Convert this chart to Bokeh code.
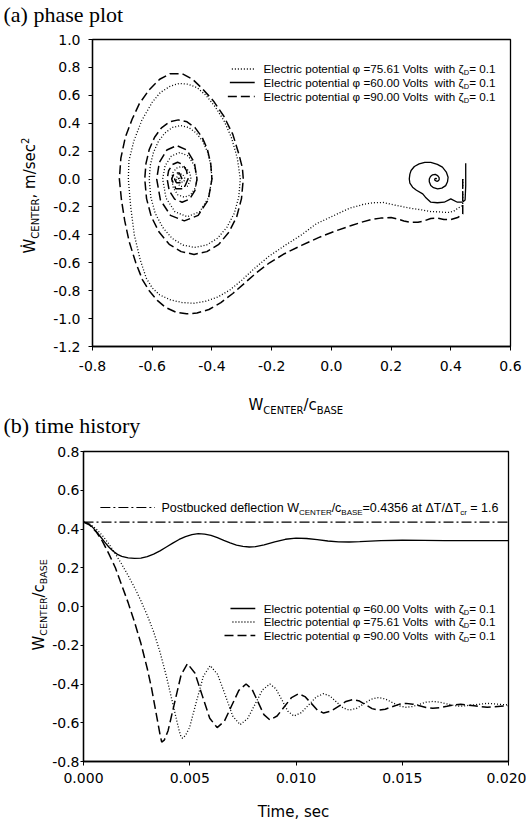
import math
from bokeh.plotting import figure
from bokeh.layouts import column, row
from bokeh.models import Label, FixedTicker, NumeralTickFormatter, Range1d
from bokeh.embed import file_html
from bokeh.resources import INLINE

# ---------------- data ----------------
phase_x_ticks = [-0.8, -0.6, -0.4, -0.2, 0.0, 0.2, 0.4, 0.6]
phase_y_ticks = [-1.2, -1.0, -0.8, -0.6, -0.4, -0.2, 0.0, 0.2, 0.4, 0.6, 0.8, 1.0]
time_x_ticks = [0.0, 0.005, 0.010, 0.015, 0.020]
time_y_ticks = [-0.8, -0.6, -0.4, -0.2, 0.0, 0.2, 0.4, 0.6, 0.8]

postbuckled_value = 0.4356

# phase plot, phi = 75.61 V (dotted)
phase_75 = [(0.44, 0.0), (0.44, -0.19), (0.427, -0.205), (0.41, -0.23), (0.39, -0.24), (0.36, -0.235),
            (0.333, -0.233), (0.30, -0.22), (0.267, -0.21), (0.22, -0.19), (0.173, -0.168), (0.14, -0.17),
            (0.11, -0.18), (0.06, -0.21), (0.01, -0.26), (-0.05, -0.32), (-0.10, -0.40), (-0.155, -0.475),
            (-0.21, -0.555), (-0.26, -0.645), (-0.30, -0.725), (-0.34, -0.795), (-0.38, -0.845),
            (-0.42, -0.875), (-0.46, -0.89), (-0.50, -0.885), (-0.54, -0.865), (-0.575, -0.83),
            (-0.60, -0.78), (-0.62, -0.71), (-0.64, -0.58), (-0.66, -0.40), (-0.672, -0.20), (-0.68, 0.0),
            (-0.678, 0.13), (-0.662, 0.27), (-0.635, 0.42), (-0.60, 0.55), (-0.573, 0.62), (-0.54, 0.665),
            (-0.51, 0.685), (-0.48, 0.68), (-0.45, 0.655), (-0.42, 0.60), (-0.39, 0.52), (-0.36, 0.42),
            (-0.335, 0.30), (-0.315, 0.15), (-0.305, 0.0),
            (-0.31, -0.127), (-0.325, -0.245), (-0.35, -0.346), (-0.381, -0.424), (-0.418, -0.473),
            (-0.4575, -0.49), (-0.497, -0.473), (-0.534, -0.424), (-0.565, -0.346), (-0.59, -0.245),
            (-0.605, -0.127), (-0.61, 0.0),
            (-0.6064, 0.099), (-0.596, 0.19), (-0.579, 0.271), (-0.5575, 0.33), (-0.532, 0.37),
            (-0.505, 0.383), (-0.478, 0.37), (-0.4525, 0.33), (-0.431, 0.271), (-0.414, 0.19),
            (-0.4036, 0.099), (-0.40, 0.0),
            (-0.4115, -0.135), (-0.441, -0.234), (-0.4825, -0.27), (-0.524, -0.234), (-0.554, -0.135),
            (-0.565, 0.0),
            (-0.557, 0.095), (-0.536, 0.165), (-0.5075, 0.19), (-0.479, 0.165), (-0.458, 0.095), (-0.45, 0.0),
            (-0.456, -0.065), (-0.471, -0.113), (-0.4925, -0.13), (-0.514, -0.113), (-0.529, -0.065),
            (-0.535, 0.0),
            (-0.531, 0.045), (-0.519, 0.078), (-0.5025, 0.09), (-0.486, 0.078), (-0.474, 0.045), (-0.47, 0.0),
            (-0.4825, -0.052), (-0.5075, -0.052), (-0.52, 0.0), (-0.5125, 0.035), (-0.4975, 0.035),
            (-0.49, 0.0), (-0.495, -0.022), (-0.505, -0.022), (-0.51, 0.0), (-0.505, 0.012), (-0.50, 0.0)]

# phase plot, phi = 60.00 V (solid)
phase_60 = [(0.45, 0.113), (0.45, -0.05), (0.448, -0.15), (0.439, -0.166), (0.422, -0.166), (0.40, -0.142),
            (0.378, -0.166), (0.355, -0.17), (0.333, -0.166), (0.315, -0.13), (0.306, -0.106),
            (0.285, -0.08), (0.272, -0.058), (0.263, -0.03), (0.261, 0.001), (0.263, 0.035), (0.267, 0.061),
            (0.278, 0.09), (0.294, 0.109), (0.313, 0.12), (0.333, 0.12), (0.355, 0.105), (0.372, 0.085),
            (0.385, 0.05), (0.391, 0.013), (0.389, -0.02), (0.383, -0.047), (0.37, -0.065), (0.356, -0.07),
            (0.342, -0.062), (0.333, -0.047), (0.328, -0.02), (0.328, 0.0), (0.332, 0.018), (0.339, 0.03),
            (0.348, 0.033), (0.356, 0.025), (0.361, 0.01), (0.361, -0.006), (0.357, -0.014), (0.353, -0.016),
            (0.347, -0.01), (0.346, 0.0), (0.35, 0.006), (0.353, 0.0)]

# phase plot, phi = 90.00 V (dashed)
phase_90 = [(0.44, 0.0), (0.44, -0.25), (0.423, -0.276), (0.40, -0.29), (0.377, -0.29), (0.355, -0.28),
            (0.333, -0.283), (0.31, -0.30), (0.29, -0.31), (0.265, -0.31), (0.243, -0.30), (0.22, -0.285),
            (0.20, -0.276), (0.165, -0.28), (0.133, -0.29), (0.10, -0.31), (0.067, -0.333), (0.01, -0.375),
            (-0.043, -0.42), (-0.10, -0.475), (-0.157, -0.535), (-0.207, -0.60), (-0.25, -0.67),
            (-0.29, -0.745), (-0.33, -0.82), (-0.37, -0.885), (-0.41, -0.935), (-0.45, -0.96),
            (-0.485, -0.966), (-0.52, -0.955), (-0.555, -0.92), (-0.583, -0.87), (-0.61, -0.80),
            (-0.633, -0.72), (-0.655, -0.60), (-0.677, -0.45), (-0.692, -0.30), (-0.703, -0.15), (-0.71, 0.0),
            (-0.705, 0.15), (-0.69, 0.30), (-0.667, 0.43), (-0.643, 0.54), (-0.61, 0.64), (-0.575, 0.715),
            (-0.54, 0.755), (-0.50, 0.755), (-0.465, 0.715), (-0.433, 0.65), (-0.395, 0.56), (-0.36, 0.45),
            (-0.33, 0.32), (-0.31, 0.18), (-0.298, 0.08), (-0.295, 0.0),
            (-0.301, -0.14), (-0.317, -0.27), (-0.343, -0.38), (-0.377, -0.468), (-0.417, -0.52),
            (-0.46, -0.54), (-0.503, -0.52), (-0.543, -0.468), (-0.577, -0.38), (-0.603, -0.27),
            (-0.619, -0.14), (-0.625, 0.0),
            (-0.621, 0.11), (-0.61, 0.212), (-0.592, 0.30), (-0.569, 0.367), (-0.5416, 0.41),
            (-0.5125, 0.424), (-0.4834, 0.41), (-0.456, 0.367), (-0.433, 0.30), (-0.415, 0.212),
            (-0.404, 0.11), (-0.40, 0.0),
            (-0.4124, -0.15), (-0.446, -0.26), (-0.4925, -0.30), (-0.539, -0.26), (-0.5726, -0.15),
            (-0.585, 0.0),
            (-0.576, 0.12), (-0.551, 0.208), (-0.5175, 0.24), (-0.484, 0.208), (-0.459, 0.12), (-0.45, 0.0),
            (-0.457, -0.083), (-0.475, -0.144), (-0.50, -0.166), (-0.525, -0.144), (-0.543, -0.083),
            (-0.55, 0.0),
            (-0.545, 0.06), (-0.5325, 0.104), (-0.515, 0.12), (-0.4975, 0.104), (-0.485, 0.06), (-0.48, 0.0),
            (-0.494, -0.069), (-0.521, -0.069), (-0.535, 0.0), (-0.526, 0.043), (-0.509, 0.043), (-0.50, 0.0),
            (-0.506, -0.026), (-0.519, -0.026), (-0.525, 0.0), (-0.515, 0.015), (-0.51, 0.0)]

# time history (time s, W_center/c_base)
time_60 = [(0.0, 0.4356), (0.0002, 0.43), (0.0004, 0.412), (0.0006, 0.388), (0.0008, 0.36), (0.001, 0.332),
           (0.0012, 0.306), (0.0014, 0.285), (0.0016, 0.269), (0.0018, 0.259), (0.0021, 0.251),
           (0.0024, 0.248), (0.0027, 0.25), (0.003, 0.257), (0.0033, 0.27), (0.0036, 0.287), (0.0039, 0.307),
           (0.0042, 0.327), (0.0045, 0.346), (0.0048, 0.361), (0.0051, 0.371), (0.0054, 0.376),
           (0.0057, 0.374), (0.006, 0.367), (0.0063, 0.355), (0.0066, 0.341), (0.0069, 0.328),
           (0.0072, 0.317), (0.0075, 0.31), (0.0078, 0.307), (0.0081, 0.309), (0.0085, 0.318),
           (0.009, 0.334), (0.0095, 0.347), (0.01, 0.353), (0.0105, 0.351), (0.011, 0.345), (0.0115, 0.338),
           (0.012, 0.334), (0.0125, 0.333), (0.013, 0.335), (0.014, 0.34), (0.015, 0.342), (0.016, 0.341),
           (0.017, 0.34), (0.018, 0.34), (0.019, 0.34), (0.02, 0.34)]

time_75 = [(0.0, 0.4356), (0.0003, 0.425), (0.0006, 0.40), (0.0009, 0.365), (0.0012, 0.322), (0.0015, 0.272),
           (0.0018, 0.218), (0.0021, 0.16), (0.0024, 0.098), (0.0027, 0.03), (0.003, -0.045), (0.0033, -0.13),
           (0.0036, -0.235), (0.0039, -0.36), (0.0042, -0.50), (0.0044, -0.595), (0.0045, -0.64),
           (0.00458, -0.67), (0.00466, -0.68), (0.0048, -0.665), (0.00499, -0.625), (0.00531, -0.4925),
           (0.00564, -0.36), (0.00596, -0.305), (0.00631, -0.35), (0.00667, -0.4575), (0.00702, -0.565),
           (0.00737, -0.61), (0.00772, -0.579), (0.00807, -0.505), (0.00842, -0.431), (0.00877, -0.40),
           (0.00905, -0.424), (0.00934, -0.4825), (0.00962, -0.541), (0.0099, -0.565), (0.01025, -0.548),
           (0.0106, -0.5075), (0.01095, -0.467), (0.0113, -0.45), (0.0116, -0.462), (0.0119, -0.4925),
           (0.01221, -0.523), (0.01251, -0.535), (0.01285, -0.526), (0.01319, -0.5025), (0.01353, -0.479),
           (0.01387, -0.47), (0.0142, -0.477), (0.01452, -0.495), (0.01485, -0.513), (0.01518, -0.52),
           (0.0155, -0.516), (0.01581, -0.505), (0.01612, -0.494), (0.01644, -0.49), (0.01677, -0.494),
           (0.0171, -0.5025), (0.01742, -0.511), (0.01775, -0.515), (0.01838, -0.5075), (0.019, -0.50),
           (0.0195, -0.504), (0.02, -0.508)]

time_90 = [(0.0, 0.4356), (0.0003, 0.42), (0.0006, 0.385), (0.0009, 0.335), (0.0012, 0.27), (0.0015, 0.20),
           (0.0018, 0.11), (0.0021, 0.02), (0.0024, -0.08), (0.0027, -0.19), (0.003, -0.32), (0.0032, -0.42),
           (0.0034, -0.54), (0.0035, -0.60), (0.0036, -0.66), (0.00368, -0.70), (0.0038, -0.69),
           (0.00398, -0.641), (0.004285, -0.4975), (0.00459, -0.354), (0.00489, -0.295), (0.00524, -0.343),
           (0.00559, -0.46), (0.00594, -0.577), (0.00629, -0.625), (0.00663, -0.592), (0.00697, -0.5125),
           (0.00731, -0.433), (0.00765, -0.40), (0.00793, -0.427), (0.00821, -0.4925), (0.00849, -0.558),
           (0.00877, -0.585), (0.00911, -0.565), (0.00945, -0.5175), (0.00979, -0.47), (0.01013, -0.45),
           (0.01042, -0.465), (0.01072, -0.50), (0.01101, -0.535), (0.0113, -0.55), (0.01165, -0.54),
           (0.012, -0.515), (0.01235, -0.49), (0.0127, -0.48), (0.01299, -0.488), (0.01328, -0.5075),
           (0.01358, -0.527), (0.01387, -0.535), (0.0142, -0.53), (0.01452, -0.5175), (0.01485, -0.505),
           (0.01518, -0.50), (0.0155, -0.504), (0.01581, -0.5125), (0.01612, -0.521), (0.01644, -0.525),
           (0.01677, -0.522), (0.0171, -0.515), (0.01742, -0.508), (0.01775, -0.505), (0.01838, -0.5125),
           (0.019, -0.52), (0.0195, -0.516), (0.02, -0.512)]

# ---------------- layout helpers ----------------
NB = "\u00a0"
ARIAL = {' ': 278, NB: 278, '.': 278, ',': 278, '=': 584, '/': 278, '-': 333, 'A': 667, 'B': 667,
         'C': 722, 'D': 722, 'E': 667, 'N': 722, 'R': 722, 'S': 667, 'T': 611, 'P': 667, 'V': 667,
         'W': 944, 'a': 556, 'b': 556, 'c': 500, 'd': 556, 'e': 556, 'f': 278, 'h': 556, 'i': 222,
         'k': 500, 'l': 222, 'n': 556, 'o': 556, 'p': 556, 'r': 333, 's': 500, 't': 278, 'u': 556,
         'w': 722, 'Δ': 668, 'ζ': 460, 'φ': 650}
for d in '0123456789':
    ARIAL[d] = 556
DEJAVU = {'W': 989, 'Ẇ': 989, 'C': 698, 'E': 632, 'N': 748, 'T': 611, 'R': 695, 'B': 686, 'A': 684,
          'S': 635, '/': 337, 'c': 550, 'm': 974, 's': 521, 'e': 615, ',': 318, ' ': 318, NB: 318, '2': 636}

SANS = "Liberation Sans"
DJV = "DejaVu Sans"
MID = 0.345   # distance baseline -> middle of the text box, in em


def tw(text, size, table):
    return sum(table.get(ch, 600) for ch in text) * size / 1000.0


def conv1(px, py):
    return (-0.8 + (px - 90) / 420 * 1.4, 1.0 - (py - 39) / 307 * 2.2)


def conv2(px, py):
    return ((px - 80) / 428 * 0.02, 0.8 - (py - 451) / 310 * 1.6)


def convt(px, py):
    return (px, -py)


def no_align(p):
    try:
        p.frame_align = False
    except Exception:
        pass


def label(fig, conv, px, py, text, font, size, align="left", angle=0.0):
    # (px, py) is the baseline start in page pixels; anchor the text at its vertical middle
    if angle == 0.0:
        x, y = conv(px, py - MID * size)
    else:
        x, y = conv(px - MID * size, py)
    fig.add_layout(Label(x=x, y=y, text=text, text_font=font, text_font_size=f"{size}px",
                         text_align=align, text_baseline="middle", angle=angle, text_color="black"))


def rich(fig, conv, px, py, pieces, font, table, angle=0.0):
    for text, size, dy in pieces:
        if angle == 0.0:
            label(fig, conv, px, py + dy, text, font, size)
            px += tw(text, size, table)
        else:
            label(fig, conv, px + dy, py, text, font, size, angle=angle)
            py -= tw(text, size, table)


def text_fig(ox, oy, w, h, top=0, bottom=0):
    # a blank canvas whose data units are page pixels (y negated)
    f = figure(width=w, height=h, x_range=Range1d(ox, ox + w),
               y_range=Range1d(-(oy + h - bottom), -(oy + top)), title=None,
               x_axis_type=None, y_axis_type=None, output_backend="svg", toolbar_location=None,
               min_border=0, min_border_left=0, min_border_right=0,
               min_border_top=top, min_border_bottom=bottom)
    f.outline_line_color = None
    f.background_fill_color = "white"
    f.border_fill_color = "white"
    f.xgrid.visible = False
    f.ygrid.visible = False
    no_align(f)
    return f


def style(p, xt, yt, xfmt, yfmt, lstand, bstand, lout=4):
    p.xgrid.visible = False
    p.ygrid.visible = False
    p.outline_line_color = "black"
    p.outline_line_width = 1.3
    p.background_fill_color = "white"
    p.border_fill_color = "white"
    no_align(p)
    for ax, ticks, fmt, st, out in ((p.xaxis[0], xt, xfmt, bstand, 4), (p.yaxis[0], yt, yfmt, lstand, lout)):
        ax.ticker = FixedTicker(ticks=ticks)
        ax.formatter = NumeralTickFormatter(format=fmt)
        ax.axis_line_color = "black"
        ax.axis_line_width = 1.3
        ax.major_tick_line_color = "black"
        ax.major_tick_out = out
        ax.major_tick_in = 0
        ax.minor_tick_line_color = None
        ax.major_label_standoff = st
        ax.major_label_text_font = DJV
        ax.major_label_text_font_size = "14px"
        ax.major_label_text_color = "black"


DOT = dict(line_color="black", line_width=1.3, line_dash="1 2")
SOL = dict(line_color="black", line_width=1.3)
DSH = dict(line_color="black", line_width=1.5, line_dash="9 4")


def legend_row(fig, conv, volts, st, x0, yc):
    xa, ya = conv(x0, yc)
    xb, _ = conv(253, yc)
    fig.line([xa, xb], [ya, ya], **st)
    label(fig, conv, 463, yc + 4, f"Electric potential φ ={volts} Volts{NB} with ζ", SANS, 11.7, align="right")
    label(fig, conv, 463, yc + 6.5, "D", SANS, 7.5)
    label(fig, conv, 468.5, yc + 4, "= 0.1", SANS, 11.7)


# ---------------- (a) phase plot ----------------
t1 = text_fig(0, 0, 526, 30)
label(t1, convt, 3, 22, "(a) phase plot", "Liberation Serif", 22)

yl1 = text_fig(0, 30, 50, 348, top=9, bottom=32)
rich(yl1, convt, 35, 253, [("Ẇ", 15, 0), ("CENTER", 10, 3), (", m/sec", 15, 0), ("2", 10, -7)],
     DJV, DEJAVU, angle=math.pi / 2)

p1 = figure(width=476, height=348, x_range=Range1d(-0.8, 0.6), y_range=Range1d(-1.2, 1.0), title=None,
            output_backend="svg", toolbar_location=None,
            min_border_left=40, min_border_right=16, min_border_top=9, min_border_bottom=32)
style(p1, phase_x_ticks, phase_y_ticks, "0.0", "0.0", 8, 10)

p1.line([a for a, b in phase_75], [b for a, b in phase_75], **DOT)
p1.line([a for a, b in phase_60], [b for a, b in phase_60], **SOL)
p1.line([a for a, b in phase_90], [b for a, b in phase_90], **DSH)

legend_row(p1, conv1, "75.61", DOT, 230, 68.5)
legend_row(p1, conv1, "60.00", SOL, 228, 82)
legend_row(p1, conv1, "90.00", DSH, 226, 96)

# x-axis title of (a) and panel title of (b) share one strip
mid = text_fig(0, 378, 526, 65)
rich(mid, convt, 248, 410, [("W", 15, 0), ("CENTER", 10, 3), ("/c", 15, 0), ("BASE", 10, 3)], DJV, DEJAVU)
label(mid, convt, 3, 433, "(b) time history", "Liberation Serif", 22)

# ---------------- (b) time history ----------------
yl2 = text_fig(0, 443, 49, 348, top=8, bottom=30)
rich(yl2, convt, 44, 650, [("W", 15, 0), ("CENTER", 9.5, 2), ("/c", 15, 0), ("BASE", 9.5, 2)],
     DJV, DEJAVU, angle=math.pi / 2)

p2 = figure(width=477, height=348, x_range=Range1d(0.0, 0.02), y_range=Range1d(-0.8, 0.8), title=None,
            output_backend="svg", toolbar_location=None,
            min_border_left=31, min_border_right=18, min_border_top=8, min_border_bottom=30)
style(p2, time_x_ticks, time_y_ticks, "0.000", "0.0", 1, 7, lout=3)

p2.line([0.0, 0.02], [postbuckled_value, postbuckled_value], line_color="black", line_width=1.1,
        line_dash="10 3 2 3")
p2.line([a for a, b in time_60], [b for a, b in time_60], **SOL)
p2.line([a for a, b in time_75], [b for a, b in time_75], **DOT)
p2.line([a for a, b in time_90], [b for a, b in time_90], **DSH)

xa, ya = conv2(97, 507)
xb, _ = conv2(152, 507)
p2.line([xa, xb], [ya, ya], line_color="black", line_width=1.1, line_dash="10 3 2 3")
label(p2, conv2, 297, 511.5, "Postbucked deflection W", SANS, 12.5, align="right")
rich(p2, conv2, 297, 511.5, [("CENTER", 8, 3), ("/c", 12.5, 0), ("BASE", 8, 3),
                             (f"={postbuckled_value} at ΔT/ΔT", 12.5, 0), ("cr", 8, 3),
                             (f"{NB}= 1.6", 12.5, 0)], SANS, ARIAL)

legend_row(p2, conv2, "60.00", SOL, 228, 608)
legend_row(p2, conv2, "75.61", DOT, 230, 621.5)
legend_row(p2, conv2, "90.00", DSH, 222, 635)

xl2 = text_fig(0, 791, 526, 33)
label(xl2, convt, 293, 817, "Time, sec", DJV, 15, align="center")

layout = column(t1, row(yl1, p1), mid, row(yl2, p2), xl2)
open("out.html", "w").write(file_html(layout, INLINE))
